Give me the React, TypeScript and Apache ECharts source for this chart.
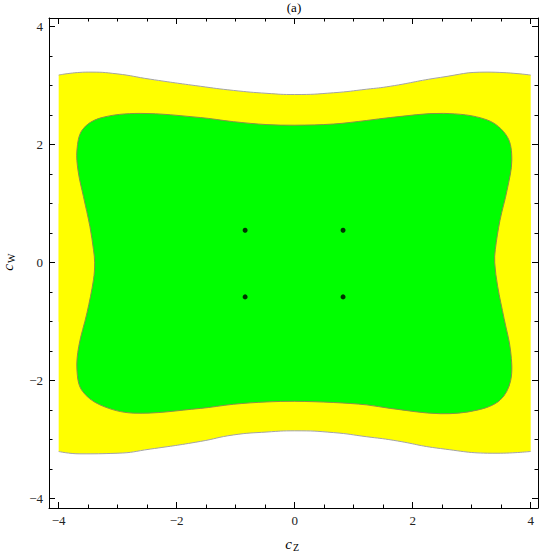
import React, { useEffect, useRef } from "react";
import * as echarts from "echarts";

// Axis ranges (frame extents) and ticks
const xMin = -4.164;
const xMax = 4.124;
const yMin = -4.158;
const yMax = 4.147;
const majorTicks = [-4, -2, 0, 2, 4];
const minorTicks = [-4, -3.5, -3, -2.5, -2, -1.5, -1, -0.5, 0, 0.5, 1, 1.5, 2, 2.5, 3, 3.5, 4];

// Upper boundary of the yellow region
const upperX = [-4, -3.5, -3.01, -2.45, -1.6, -1.04, -0.47, 0, 0.66, 1.22, 1.62, 2.47, 3.26, 4];
const upperY = [3.18, 3.23, 3.2, 3.11, 2.99, 2.92, 2.87, 2.85, 2.88, 2.94, 2.99, 3.14, 3.23, 3.18];

// Lower boundary of the yellow region
const lowerX = [-4, -3.64, -3.01, -2.45, -1.6, -1.04, -0.47, 0, 0.66, 1.22, 1.67, 2.47, 3.43, 4];
const lowerY = [-3.2, -3.24, -3.23, -3.16, -3.03, -2.92, -2.87, -2.85, -2.88, -2.95, -3.01, -3.15, -3.23, -3.2];

// Closed green contour
const greenX = [
  -3.39, -3.41, -3.47, -3.58, -3.67, -3.69, -3.6, -3.3, -2.62, -1.6, -1.04, -0.47, 0, 0.66, 1.22, 1.62,
  2.52, 3.26, 3.6, 3.68, 3.6, 3.48, 3.4, 3.39, 3.44, 3.55, 3.66, 3.66, 3.48, 3.09, 2.47, 1.62, 1.22,
  0.66, 0, -0.47, -1.04, -1.6, -2.73, -3.3, -3.61, -3.69, -3.66, -3.52, -3.41,
];
const greenY = [
  0, 0.22, 0.61, 1.12, 1.55, 1.91, 2.25, 2.45, 2.53, 2.46, 2.39, 2.34, 2.33, 2.35, 2.41, 2.46,
  2.53, 2.42, 2.14, 1.74, 1.23, 0.72, 0.22, 0, -0.4, -0.95, -1.5, -2.0, -2.33, -2.5, -2.56, -2.47, -2.41,
  -2.37, -2.35, -2.36, -2.4, -2.47, -2.55, -2.41, -2.16, -1.82, -1.42, -0.85, -0.29,
];

// Black points
const dotX = [-0.84, 0.82, -0.84, 0.82];
const dotY = [0.55, 0.55, -0.58, -0.58];

const SERIF = '"Liberation Serif", "DejaVu Serif", serif';
const fmt = (v: number) => String(v).replace("-", "\u2212");

function makeAxis(kind: "x" | "y", position: string, major: boolean, labels: boolean) {
  return {
    type: "value",
    gridIndex: 0,
    position,
    min: kind === "x" ? xMin : yMin,
    max: kind === "x" ? xMax : yMax,
    z: 10,
    axisLine: { show: major, onZero: false, lineStyle: { color: "#000", width: 1 } },
    axisTick: {
      show: true,
      inside: true,
      length: major ? 6 : 3.5,
      customValues: major ? majorTicks : minorTicks,
      lineStyle: { color: "#000", width: 1 },
    },
    axisLabel: {
      show: labels,
      customValues: majorTicks,
      formatter: fmt,
      fontFamily: SERIF,
      fontSize: 13,
      color: "#222",
      margin: 6,
    },
    splitLine: { show: false },
  };
}

export default function App() {
  const ref = useRef<HTMLDivElement>(null);
  useEffect(() => {
    if (!ref.current) return;
    const chart = echarts.init(ref.current, undefined, { renderer: "svg" });
    const option: any = {
      animation: false,
      grid: { left: 49, top: 18, width: 489, height: 490, containLabel: false },
      xAxis: [
        makeAxis("x", "bottom", true, true),
        makeAxis("x", "bottom", false, false),
        makeAxis("x", "top", true, false),
        makeAxis("x", "top", false, false),
      ],
      yAxis: [
        makeAxis("y", "left", true, true),
        makeAxis("y", "left", false, false),
        makeAxis("y", "right", true, false),
        makeAxis("y", "right", false, false),
      ],
      series: [
        {
          type: "line",
          data: upperX.map((x, i) => [x, upperY[i]]),
          smooth: 0.5,
          symbol: "none",
          silent: true,
          z: 2,
          lineStyle: { color: "#a3a3a8", width: 1 },
          areaStyle: { color: "#ffff00", opacity: 1, origin: -1 },
        },
        {
          type: "line",
          data: lowerX.map((x, i) => [x, lowerY[i]]),
          smooth: 0.5,
          symbol: "none",
          silent: true,
          z: 3,
          lineStyle: { color: "#a3a3a8", width: 1 },
          areaStyle: { color: "#ffff00", opacity: 1, origin: 1 },
        },
        {
          type: "custom",
          z: 4,
          silent: true,
          data: greenX.map((x, i) => [x, greenY[i]]),
          renderItem: (params: any, api: any) => {
            if (params.dataIndex !== 0) return null;
            const pts: number[][] = [];
            for (let i = 0; i < params.dataInsideLength; i++) {
              pts.push(api.coord([api.value(0, i), api.value(1, i)]));
            }
            return {
              type: "polygon",
              shape: { points: pts, smooth: 0.35 },
              style: { fill: "#00ff00", stroke: "#8a8f4a", lineWidth: 1 },
            };
          },
        },
        {
          type: "scatter",
          z: 5,
          data: dotX.map((x, i) => [x, dotY[i]]),
          symbolSize: 5,
          itemStyle: { color: "#000" },
        },
      ],
      graphic: [
        {
          type: "text",
          x: 294,
          y: 7,
          style: { text: "(a)", font: `13px ${SERIF}`, fill: "#000", align: "center", verticalAlign: "middle" },
        },
        {
          type: "group",
          x: 293,
          y: 544,
          children: [
            {
              type: "text",
              x: -1,
              y: 0,
              style: { text: "c", font: `italic 15px ${SERIF}`, fill: "#000", align: "right", verticalAlign: "middle" },
            },
            {
              type: "text",
              x: 0,
              y: 3,
              style: { text: "Z", font: `10px ${SERIF}`, fill: "#000", align: "left", verticalAlign: "middle" },
            },
          ],
        },
        {
          type: "group",
          x: 8,
          y: 263,
          rotation: Math.PI / 2,
          children: [
            {
              type: "text",
              x: -1,
              y: 0,
              style: { text: "c", font: `italic 15px ${SERIF}`, fill: "#000", align: "right", verticalAlign: "middle" },
            },
            {
              type: "text",
              x: 0,
              y: 3,
              style: { text: "W", font: `10px ${SERIF}`, fill: "#000", align: "left", verticalAlign: "middle" },
            },
          ],
        },
      ],
    };
    chart.setOption(option);
    return () => chart.dispose();
  }, []);
  return <div ref={ref} style={{ position: "absolute", left: 0, top: 0, width: 540, height: 554 }} />;
}
